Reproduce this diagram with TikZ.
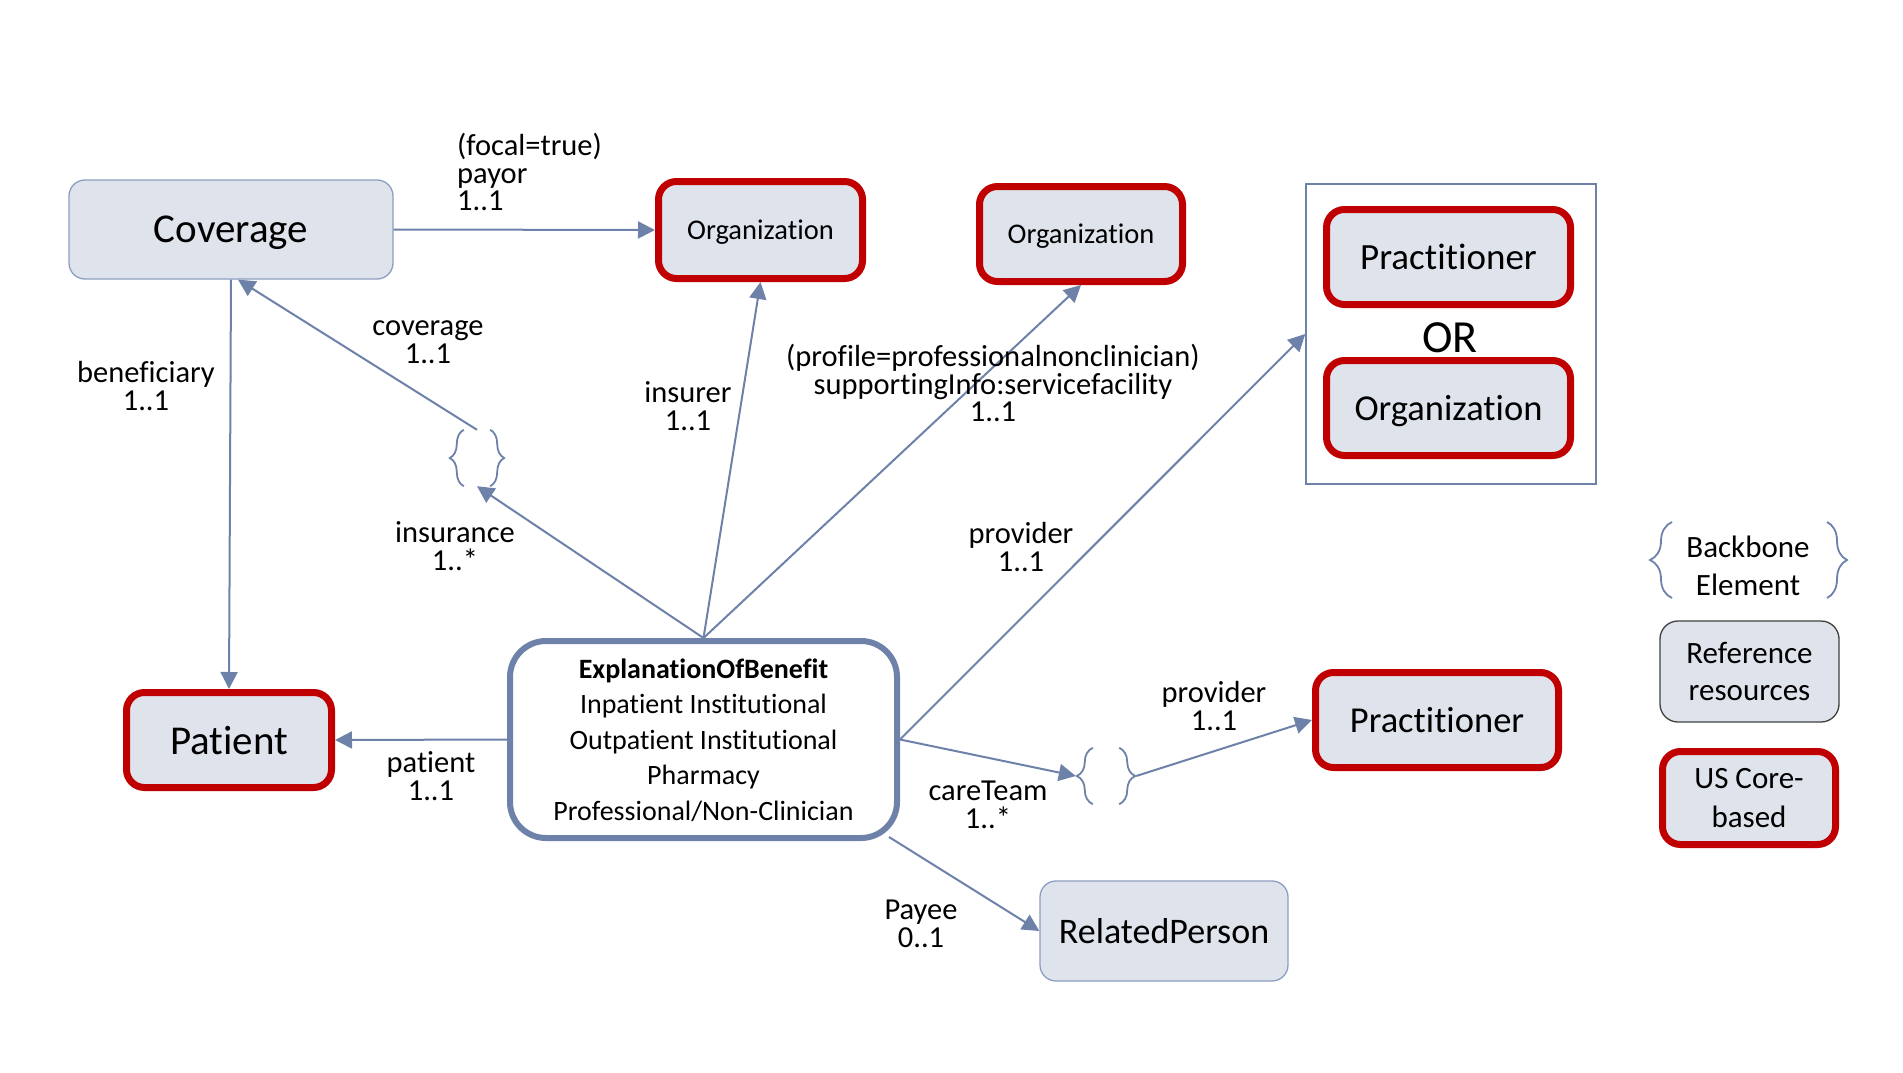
\documentclass[tikz,border=0pt]{standalone}
\usepackage{fontspec}
\setmainfont{Carlito}[Ligatures=CommonOff]
\usetikzlibrary{arrows.meta,decorations.pathreplacing,calc}
\definecolor{lnk}{HTML}{6E82A9}
\definecolor{boxfill}{HTML}{DFE4EC}
\definecolor{usred}{HTML}{C00000}
\definecolor{thinb}{HTML}{8C9EC2}
\begin{document}
\begin{tikzpicture}[x=1pt,y=-1pt,
  res/.style={draw=thinb, line width=1.3pt, fill=boxfill, rounded corners=16pt, inner sep=0pt, text depth=0pt},
  core/.style={draw=usred, line width=7pt, fill=boxfill, rounded corners=18pt, inner sep=0pt, text depth=0pt},
  eobst/.style={draw=lnk, line width=6pt, fill=white, rounded corners=36pt, inner sep=0pt, text depth=0pt},
  conn/.style={draw=lnk, line width=2pt, -{Triangle[length=17pt,width=17pt]}},
  lbl/.style={align=center, inner sep=0pt, font=\fontsize{30.5}{27.5}\selectfont},
  brc/.style={draw=lnk, line width=1.8pt, decorate, decoration={brace, amplitude=#1}},
  holder/.style={inner sep=0pt, minimum width=#1}
]
\useasboundingbox (0,0) rectangle (1903,1073);
\fill[white] (0,0) rectangle (1903,1073);

% nodes
\node[res, minimum width=324pt, minimum height=99pt, font=\fontsize{41}{48}\selectfont] (cov) at (231,229.5) {Coverage};
\node[core, minimum width=204pt, minimum height=97pt, font=\fontsize{28.5}{34}\selectfont] (org1) at (760.5,230) {Organization};
\node[core, minimum width=203pt, minimum height=95pt, font=\fontsize{28.5}{34}\selectfont] (org2) at (1081,234) {Organization};
\node[draw=lnk, line width=1.5pt, minimum width=290pt, minimum height=300pt, inner sep=0pt] (orbox) at (1451,334) {};
\node[core, minimum width=244pt, minimum height=95pt, font=\fontsize{37}{44}\selectfont] (prac1) at (1448.5,257) {Practitioner};
\node[inner sep=0pt, font=\fontsize{46}{50}\selectfont] (ortext) at (1450,338) {OR};
\node[core, minimum width=244pt, minimum height=95pt, font=\fontsize{36.5}{44}\selectfont] (org3) at (1448.5,408) {Organization};
\node[core, minimum width=205pt, minimum height=95pt, font=\fontsize{41}{48}\selectfont] (pat) at (229,740) {Patient};
\node[eobst, minimum width=387pt, minimum height=197pt, align=center, font=\fontsize{28}{35.5}\selectfont] (eob) at (703.5,739.5)
  {{\bfseries ExplanationOfBenefit}\\Inpatient Institutional\\Outpatient Institutional\\Pharmacy\\Professional/Non-Clinician};
\node[core, minimum width=243pt, minimum height=95pt, font=\fontsize{36.5}{44}\selectfont] (prac2) at (1437,720) {Practitioner};
\node[res, minimum width=248pt, minimum height=100pt, font=\fontsize{36}{44}\selectfont] (rp) at (1164,931) {RelatedPerson};
\node[holder=56pt, minimum height=56pt] (ins) at (477,458) {};
\node[holder=60pt, minimum height=56pt] (ct) at (1106,776) {};

% backbone braces
\draw[brc=14pt] ($(ins.south west)+(15,0)$) -- ($(ins.north west)+(15,0)$);
\draw[brc=14pt] ($(ins.north east)+(-15,0)$) -- ($(ins.south east)+(-15,0)$);
\draw[brc=16pt] ($(ct.south west)+(17,0)$) -- ($(ct.north west)+(17,0)$);
\draw[brc=16pt] ($(ct.north east)+(-17,0)$) -- ($(ct.south east)+(-17,0)$);

% legend
\node[align=center, inner sep=0pt, font=\fontsize{31}{38}\selectfont] (bb) at (1748,566) {Backbone\\Element};
\draw[brc=22pt] (1672,598) -- (1672,522);
\draw[brc=20pt] (1827,522) -- (1827,598);
\node[draw=black!75, line width=1.3pt, fill=boxfill, rounded corners=18pt, minimum width=179pt, minimum height=101pt, align=center, inner sep=0pt, font=\fontsize{31}{37}\selectfont] (ref) at (1749.5,671.5) {Reference\\resources};
\node[core, minimum width=173pt, minimum height=93pt, align=center, font=\fontsize{31}{39}\selectfont] (usc) at (1749,798) {US Core-\\based};

% connectors
\draw[conn] (cov.east) -- (org1.west);
\draw[conn] (cov.south) -- (pat.north);
\draw[conn] (ins.north) -- ($(cov.south)+(7,0)$);
\draw[conn] (eob.north) -- (ins.south);
\draw[conn] (eob.north) -- (org1.south);
\draw[conn] (eob.north) -- (org2.south);
\draw[conn] (eob.east) -- (orbox.west);
\draw[conn] (eob.west) -- (pat.east);
\draw[conn] (eob.east) -- (ct.west);
\draw[conn] (ct.east) -- (prac2.west);
\draw[conn] ($(eob.south east)+(-11,-4)$) -- (rp.west);

% labels
\node[lbl, align=left, anchor=west] (lpayor) at (457,172) {(focal=true)\\payor\\1..1};
\node[lbl] (lben) at (146,386) {beneficiary\\1..1};
\node[lbl] (lcov) at (428,342) {coverage\\1..1};
\node[lbl] (lins) at (455,546) {insurance\\1..*};
\node[lbl] (linsr) at (688,406) {insurer\\1..1};
\node[lbl] (lsup) at (993,383) {(profile=professionalnonclinician)\\supportingInfo:servicefacility\\1..1};
\node[lbl] (lprov) at (1021,547) {provider\\1..1};
\node[lbl] (lpat) at (431,776) {patient\\1..1};
\node[lbl] (lct) at (988,805) {careTeam\\1..*};
\node[lbl] (lprov2) at (1214,706) {provider\\1..1};
\node[lbl] (lpay) at (921,924) {Payee\\0..1};
\end{tikzpicture}
\end{document}
